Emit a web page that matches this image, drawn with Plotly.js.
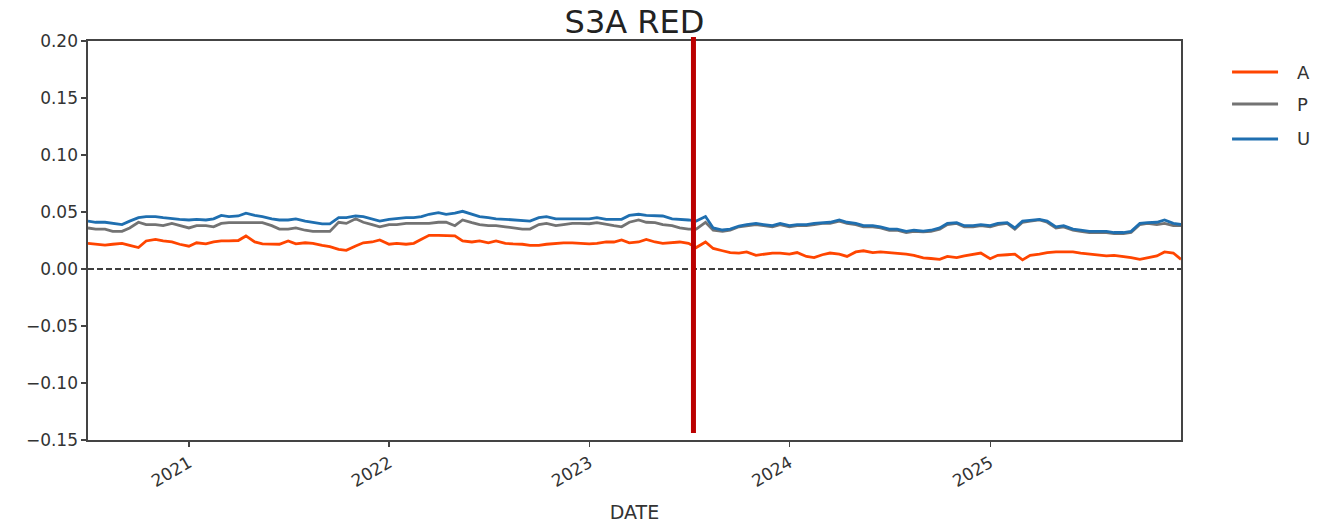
<!DOCTYPE html>
<html>
<head>
<meta charset="utf-8">
<script src="https://cdn.plot.ly/plotly-3.0.1.min.js"></script>
<style>html,body{margin:0;padding:0;background:#fff;}#chart{width:1322px;height:527px;}</style>
</head>
<body>
<div id="chart"></div>
<script>
// Semi-monthly observation dates: 1st and 15th of each month, 2020-07-01 .. 2025-12-15
const START_YEAR = 2020, START_MONTH = 7, N_POINTS = 132;
const DATES = [];
for (let k = 0; k < N_POINTS; k++) {
  const m0 = START_MONTH - 1 + Math.floor(k / 2);
  const y = START_YEAR + Math.floor(m0 / 12);
  const m = (m0 % 12) + 1;
  const d = (k % 2 === 0) ? '01' : '15';
  DATES.push(y + '-' + String(m).padStart(2, '0') + '-' + d);
}

const SERIES_NAMES = ['A', 'P', 'U'];

const A_VALUES = [
  0.0225, 0.0217, 0.021, 0.0217, 0.0225, 0.0207, 0.0188, 0.0246, 0.026, 0.0246,
  0.0237, 0.0217, 0.020, 0.023, 0.022, 0.0237, 0.0246, 0.0246, 0.025, 0.029,
  0.0237, 0.022, 0.0217, 0.0217, 0.0246, 0.022, 0.023, 0.0225, 0.0207, 0.0196,
  0.0173, 0.0164, 0.0202, 0.023, 0.0237, 0.0255, 0.0217, 0.0225, 0.0217, 0.0225,
  0.026, 0.0295, 0.0295, 0.029, 0.029, 0.0246, 0.0237, 0.0246, 0.023, 0.0246,
  0.0225, 0.022, 0.0217, 0.0207, 0.0207, 0.0217, 0.0225, 0.023, 0.023, 0.0225,
  0.022, 0.0225, 0.0237, 0.0237, 0.0255, 0.023, 0.0237, 0.026, 0.0237, 0.0225,
  0.023, 0.0237, 0.0225, 0.0188, 0.0237, 0.018, 0.016, 0.0144, 0.014, 0.015,
  0.012, 0.013, 0.014, 0.014, 0.013, 0.0144, 0.011, 0.010, 0.0125, 0.014,
  0.013, 0.011, 0.015, 0.016, 0.0144, 0.015, 0.0144, 0.014, 0.013, 0.012,
  0.0097, 0.0092, 0.0085, 0.011, 0.010, 0.0115, 0.013, 0.014, 0.009, 0.012,
  0.0125, 0.013, 0.008, 0.012, 0.013, 0.0144, 0.015, 0.015, 0.015, 0.014,
  0.013, 0.012, 0.0115, 0.012, 0.011, 0.010, 0.0085, 0.010, 0.0115, 0.015, 0.014, 0.0085
];

const P_VALUES = [
  0.036, 0.035, 0.035, 0.033, 0.033, 0.036, 0.041, 0.039, 0.039, 0.038,
  0.040, 0.038, 0.036, 0.038, 0.038, 0.037, 0.040, 0.0407, 0.0407, 0.041,
  0.041, 0.0407, 0.038, 0.035, 0.035, 0.036, 0.034, 0.033, 0.033, 0.033,
  0.041, 0.040, 0.044, 0.041, 0.039, 0.037, 0.039, 0.039, 0.040, 0.040,
  0.040, 0.040, 0.041, 0.041, 0.038, 0.043, 0.0407, 0.039, 0.038, 0.038,
  0.037, 0.036, 0.035, 0.035, 0.039, 0.040, 0.038, 0.039, 0.040, 0.040,
  0.0397, 0.0407, 0.039, 0.038, 0.037, 0.041, 0.043, 0.041, 0.0407, 0.039,
  0.038, 0.036, 0.035, 0.035, 0.041, 0.034, 0.033, 0.034, 0.037, 0.038,
  0.039, 0.038, 0.037, 0.039, 0.037, 0.038, 0.038, 0.039, 0.040, 0.040,
  0.042, 0.040, 0.039, 0.037, 0.037, 0.036, 0.034, 0.034, 0.032, 0.033,
  0.0325, 0.033, 0.035, 0.039, 0.040, 0.037, 0.037, 0.038, 0.037, 0.039,
  0.040, 0.035, 0.041, 0.042, 0.043, 0.041, 0.036, 0.037, 0.034, 0.033,
  0.032, 0.032, 0.032, 0.031, 0.031, 0.032, 0.039, 0.040, 0.039, 0.040, 0.038, 0.038
];

const U_VALUES = [
  0.042, 0.041, 0.041, 0.040, 0.039, 0.042, 0.045, 0.046, 0.046, 0.045,
  0.044, 0.0436, 0.043, 0.0436, 0.043, 0.044, 0.047, 0.046, 0.0465, 0.049,
  0.047, 0.046, 0.044, 0.043, 0.043, 0.044, 0.042, 0.0407, 0.0395, 0.0395,
  0.045, 0.045, 0.0465, 0.046, 0.0436, 0.042, 0.0436, 0.0445, 0.045, 0.045,
  0.046, 0.048, 0.0494, 0.048, 0.049, 0.0506, 0.048, 0.046, 0.045, 0.044,
  0.0436, 0.043, 0.0425, 0.042, 0.045, 0.046, 0.044, 0.044, 0.044, 0.0436,
  0.044, 0.045, 0.0436, 0.0436, 0.0436, 0.047, 0.048, 0.047, 0.0465, 0.0465,
  0.044, 0.0436, 0.043, 0.042, 0.046, 0.036, 0.0342, 0.035, 0.0377, 0.039,
  0.040, 0.039, 0.038, 0.040, 0.038, 0.039, 0.039, 0.040, 0.0407, 0.041,
  0.043, 0.041, 0.040, 0.038, 0.038, 0.037, 0.035, 0.035, 0.033, 0.034,
  0.0333, 0.034, 0.036, 0.040, 0.0407, 0.038, 0.038, 0.039, 0.038, 0.040,
  0.0407, 0.036, 0.042, 0.043, 0.0436, 0.042, 0.037, 0.038, 0.035, 0.034,
  0.033, 0.033, 0.033, 0.032, 0.032, 0.033, 0.040, 0.0407, 0.041, 0.043, 0.040, 0.039
];

const EVENT_DATE = '2023-07-10';
const Y_TICKS = [-0.15, -0.10, -0.05, 0.00, 0.05, 0.10, 0.15, 0.20];

const COLORS = {A: '#ff4500', P: '#737373', U: '#1f6fb0'};
const VALUES = {A: A_VALUES, P: P_VALUES, U: U_VALUES};

const traces = SERIES_NAMES.map((name) => ({
  x: DATES,
  y: VALUES[name],
  type: 'scatter',
  mode: 'lines',
  name: name,
  line: {color: COLORS[name], width: 2.8}
}));

// Matplotlib-style legend (long line samples) drawn in paper coordinates
const LEG_X0 = 1.0467, LEG_X1 = 1.0888, LEG_TX = 1.1045;
const LEG_Y = [0.9223, 0.8421, 0.7544];
const legendShapes = SERIES_NAMES.map((name, i) => ({
  type: 'line', xref: 'paper', yref: 'paper',
  x0: LEG_X0, x1: LEG_X1, y0: LEG_Y[i], y1: LEG_Y[i],
  line: {color: COLORS[name], width: 3}
}));
const legendLabels = SERIES_NAMES.map((name, i) => ({
  xref: 'paper', yref: 'paper', x: LEG_TX, y: LEG_Y[i],
  xanchor: 'left', yanchor: 'middle', showarrow: false,
  text: name, font: {family: 'DejaVu Sans, sans-serif', size: 18, color: '#333333'}
}));

const layout = {
  width: 1322,
  height: 527,
  paper_bgcolor: '#ffffff',
  plot_bgcolor: '#ffffff',
  font: {family: 'DejaVu Sans, sans-serif', color: '#333333', size: 17},
  margin: {l: 88, r: 141, t: 41, b: 87, pad: 0},
  title: {
    text: 'S3A RED',
    font: {family: 'DejaVu Sans, sans-serif', size: 32, color: '#222222'},
    x: 0.5, xanchor: 'center', xref: 'paper',
    y: 0.958, yanchor: 'middle', yref: 'container'
  },
  showlegend: false,
  xaxis: {
    type: 'date',
    range: [DATES[0], DATES[DATES.length - 1]],
    tick0: '2021-01-01',
    dtick: 'M12',
    tickformat: '%Y',
    tickangle: -30,
    ticks: 'outside',
    ticklen: 5,
    tickwidth: 1.2,
    tickcolor: '#444444',
    showline: true,
    mirror: true,
    linecolor: '#444444',
    linewidth: 1.6,
    showgrid: false,
    zeroline: false,
    tickfont: {size: 17, color: '#333333'},
    title: {text: 'DATE', font: {size: 19, color: '#333333'}, standoff: 16}
  },
  yaxis: {
    range: [-0.15, 0.20],
    tickmode: 'array',
    tickvals: Y_TICKS,
    tickformat: '.2f',
    ticks: 'outside',
    ticklen: 5,
    tickwidth: 1.2,
    tickcolor: '#444444',
    showline: true,
    mirror: true,
    linecolor: '#444444',
    linewidth: 1.6,
    showgrid: false,
    zeroline: false,
    tickfont: {size: 17, color: '#333333'}
  },
  annotations: legendLabels,
  shapes: [
    {type: 'line', xref: 'paper', x0: 0, x1: 1, yref: 'y', y0: 0, y1: 0,
     line: {color: '#000000', width: 1.4, dash: '6px,3px'}, layer: 'above'},
    {type: 'line', xref: 'x', x0: EVENT_DATE, x1: EVENT_DATE, yref: 'paper', y0: 0.0175, y1: 1.01,
     line: {color: '#bb0000', width: 5}, layer: 'above'}
  ].concat(legendShapes)
};

Plotly.newPlot('chart', traces, layout, {displayModeBar: false, staticPlot: true});
</script>
</body>
</html>
